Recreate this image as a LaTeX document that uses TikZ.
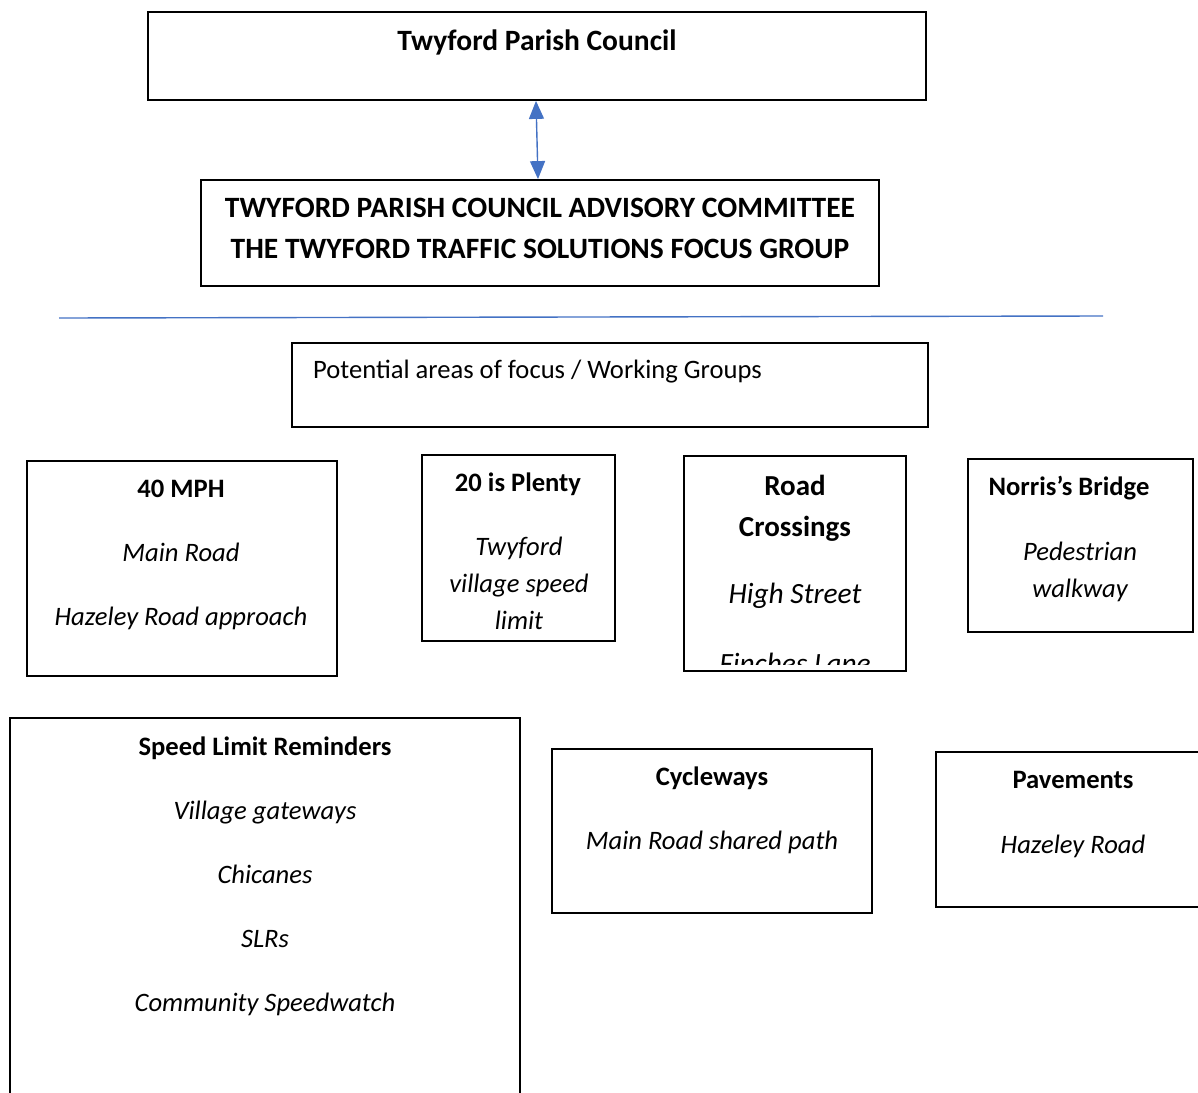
\documentclass[tikz,border=0pt]{standalone}
\usepackage{fontspec}
\setmainfont{Carlito}
\usetikzlibrary{arrows.meta,calc}
\definecolor{wordblue}{RGB}{68,114,196}
\tikzset{
  box/.style={draw=black, line width=1.8pt, inner sep=0pt, fill=none},
  txt/.style={inner sep=0pt, anchor=base, font=\fontsize{26.6}{32}\selectfont},
  btxt/.style={txt, font=\fontsize{26.6}{32}\selectfont\bfseries},
  itxt/.style={txt, font=\fontsize{26.6}{32}\selectfont\itshape},
  bigb/.style={txt, font=\fontsize{29.5}{35}\selectfont\bfseries},
  bigi/.style={txt, font=\fontsize{29.4}{35}\selectfont\itshape},
  arr/.style={draw=wordblue, line width=1.4pt, {Triangle[width=15pt,length=18pt]}-{Triangle[width=15pt,length=18pt]}, fill=wordblue},
  rule/.style={draw=wordblue, line width=1.4pt}
}
\begin{document}
\begin{tikzpicture}[x=1pt,y=-1pt]
\useasboundingbox (0,0) rectangle (1198,1092);
\clip (0,0) rectangle (1198,1092);
% top boxes
\node[box, minimum width=778pt, minimum height=88pt] (pc) at (537,56) {};
\node[bigb] (pct) at (537,50.5) {Twyford Parish Council};
\node[box, minimum width=678pt, minimum height=106pt] (ac) at (540,233) {};
\node[bigb] (act1) at (540,217.5) {TWYFORD PARISH COUNCIL ADVISORY COMMITTEE};
\node[bigb] (act2) at (540,258.5) {THE TWYFORD TRAFFIC SOLUTIONS FOCUS GROUP};
\draw[arr] ($(pc.south)+(-1,0)$) -- ($(ac.north)+(-2,0)$);
% rule
\coordinate (hl) at (59,318);
\coordinate (hr) at (1103,316);
\draw[rule] (hl) -- (hr);
% potential areas
\node[box, minimum width=636pt, minimum height=84pt] (pa) at (610,385) {};
\node[txt, anchor=base west] (pat) at (313,378.6) {Potential areas of focus / Working Groups};
% 40 MPH
\node[box, minimum width=310pt, minimum height=215pt] (m40) at (182,568.5) {};
\node[btxt] (m40a) at (181,497.6) {40 MPH};
\node[itxt] (m40b) at (181,561.6) {Main Road};
\node[itxt] (m40c) at (181,625.6) {Hazeley Road approach};
% 20 is plenty
\node[box, minimum width=193pt, minimum height=186pt] (tp) at (518.5,548) {};
\node[btxt] (tpa) at (518,491.6) {20 is Plenty};
\node[itxt] (tpb) at (519,555.6) {Twyford};
\node[itxt] (tpc) at (519,592.6) {village speed};
\node[itxt] (tpd) at (519,629.6) {limit};
% road crossings
\node[box, minimum width=222pt, minimum height=215pt] (rc) at (795,563.5) {};
\node[bigb, font=\fontsize{29}{35}\selectfont\bfseries] (rca) at (795,495.3) {Road};
\node[bigb, font=\fontsize{29}{35}\selectfont\bfseries] (rcb) at (795,536.3) {Crossings};
\node[bigi] (rcc) at (795,603.5) {High Street};
\begin{scope}
\clip (686,458) rectangle (904,664);
\node[bigi] (rcd) at (795,673) {Finches Lane};
\end{scope}
% norris
\node[box, minimum width=225pt, minimum height=173pt] (nb) at (1080.5,545.5) {};
\node[btxt] (nba) at (1069,495.6) {Norris’s Bridge};
\node[itxt] (nbb) at (1080,560.6) {Pedestrian};
\node[itxt] (nbc) at (1080,597.6) {walkway};
% speed limit reminders
\node[box, minimum width=510pt, minimum height=400pt] (sl) at (265,918) {};
\node[btxt] (sla) at (265,755.6) {Speed Limit Reminders};
\node[itxt] (slb) at (265,819.6) {Village gateways};
\node[itxt] (slc) at (265,883.6) {Chicanes};
\node[itxt] (sld) at (265,947.6) {SLRs};
\node[itxt] (sle) at (265,1011.6) {Community Speedwatch};
% cycleways
\node[box, minimum width=320pt, minimum height=164pt] (cw) at (712,831) {};
\node[btxt] (cwa) at (712,785.6) {Cycleways};
\node[itxt] (cwb) at (712,849.6) {Main Road shared path};
% pavements
\node[box, minimum width=290pt, minimum height=155pt] (pv) at (1081,829.5) {};
\node[btxt] (pva) at (1073,788.6) {Pavements};
\node[itxt] (pvb) at (1073,853.6) {Hazeley Road};
\end{tikzpicture}
\end{document}
